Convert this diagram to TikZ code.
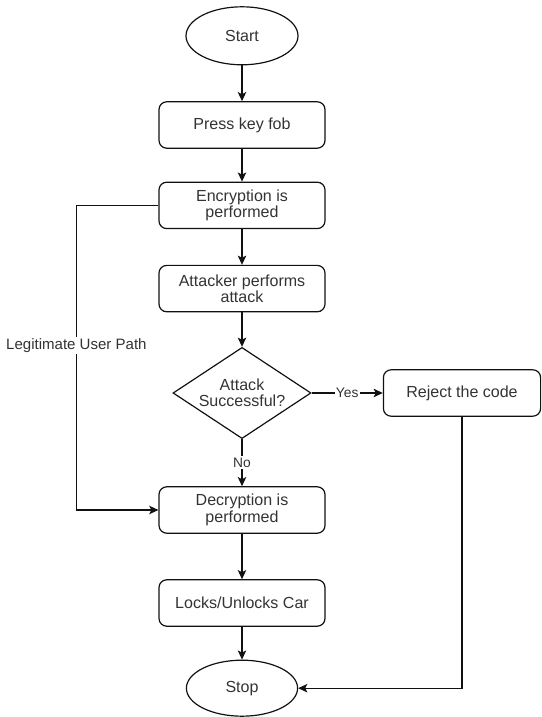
\documentclass[tikz,border=0pt]{standalone}
\usepackage{fontspec}
\setmainfont{Liberation Sans}
\usetikzlibrary{arrows.meta,positioning,shapes.geometric}
\definecolor{textcolor}{HTML}{333333}
\definecolor{edgecolor}{HTML}{111111}
\tikzset{
  base/.style={draw=edgecolor, line width=0.85pt, align=center, text=textcolor, inner sep=0pt, font=\fontsize{11.4}{11.6}\selectfont},
  terminal/.style={base, ellipse, minimum width=2.80cm, minimum height=1.45cm},
  process/.style={base, rounded corners=5.5pt, minimum width=4.15cm, minimum height=1.16cm},
  decision/.style={base, diamond, aspect=1.52, minimum width=3.45cm, minimum height=2.28cm},
  edgelabel/.style={fill=white, inner sep=1pt, text=textcolor, font=\fontsize{9.8}{11}\selectfont},
  pathlabel/.style={edgelabel, font=\fontsize{10.7}{12}\selectfont},
  edge/.style={-{Stealth[length=6.5pt,width=6pt,inset=1.5pt]}, draw=edgecolor, line width=0.85pt},
}
\begin{document}
\begin{tikzpicture}[x=1cm,y=1cm]
  \useasboundingbox (0,0) rectangle (13.525,17.925);

  \node[terminal] (start) at (6.05,17.03) {Start};
  \node[process] (press) at (6.05,14.80) {Press key fob};
  \node[process] (encrypt) at (6.05,12.79) {Encryption is\\ performed};
  \node[process] (attack) at (6.05,10.71) {Attacker performs\\ attack};
  \node[decision] (success) at (6.05,8.10) {Attack\\ Successful?};
  \node[process, minimum width=3.93cm] (reject) at (11.55,8.10) {Reject the code};
  \node[process] (decrypt) at (6.05,5.175) {Decryption is\\ performed};
  \node[process] (locks) at (6.05,2.85) {Locks/Unlocks Car};
  \node[terminal, minimum width=2.78cm, minimum height=1.40cm] (stop) at (6.05,0.72) {Stop};

  \coordinate (legit) at (1.91,12.79);

  \draw[edge] (start) -- (press);
  \draw[edge] (press) -- (encrypt);
  \draw[edge] (encrypt) -- (attack);
  \draw[edge] (attack) -- (success);
  \draw[edge] (success) -- node[edgelabel] {Yes} (reject);
  \draw[edge] (success) -- node[edgelabel] {No} (decrypt);
  \draw[edge] (decrypt) -- (locks);
  \draw[edge] (locks) -- (stop);
  \draw[edge] (reject.south) |- (stop.east);

  \draw[edge] (encrypt.west) -- (legit)
    -- node[pathlabel, pos=0.46] {Legitimate User Path} (decrypt.west -| legit)
    -- (decrypt.west);
\end{tikzpicture}
\end{document}
